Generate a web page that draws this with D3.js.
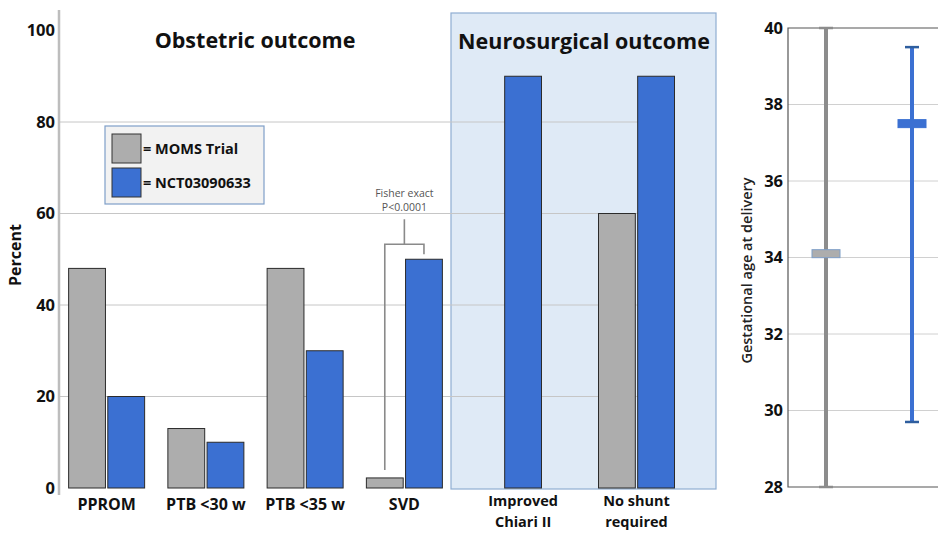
<!DOCTYPE html>
<html><head><meta charset="utf-8">
<script src="https://cdn.jsdelivr.net/npm/d3@7"></script>
<style>
html,body{margin:0;padding:0;background:#fff;}
svg{display:block;font-family:"Open Sans",Lato,sans-serif;}
</style></head>
<body>
<svg id="chart" width="938" height="534"></svg>
<script>
// ---------- data ----------
const obstetricCategories = ["PPROM", "PTB <30 w", "PTB <35 w", "SVD"];
const neuroCategories = ["Improved Chiari II", "No shunt required"];
const categoryLines = {
  "PPROM": ["PPROM"], "PTB <30 w": ["PTB <30 w"], "PTB <35 w": ["PTB <35 w"], "SVD": ["SVD"],
  "Improved Chiari II": ["Improved", "Chiari II"], "No shunt required": ["No shunt", "required"]
};
const seriesNames = ["MOMS Trial", "NCT03090633"];
const momsValues = [48, 13, 48, 2.2, null, 60];
const nctValues = [20, 10, 30, 50, 90, 90];
const percentTicks = [0, 20, 40, 60, 80, 100];

const gaSeries = ["MOMS Trial", "NCT03090633"];
const gaMin = [28, 29.7];
const gaMedian = [34.1, 37.5];
const gaMax = [40, 39.5];
const gaTicks = [28, 30, 32, 34, 36, 38, 40];

const fisherLines = ["Fisher exact", "P<0.0001"];

// ---------- setup ----------
const svg = d3.select("#chart");
const colors = {"MOMS Trial": "#adadad", "NCT03090633": "#3b70d2"};
const allCats = obstetricCategories.concat(neuroCategories);
const rows = allCats.map((c, i) => ({cat: c, values: [momsValues[i], nctValues[i]]}));

const y = d3.scaleLinear().domain([0, 100]).range([488, 30.5]);
const xObs = d3.scaleBand().domain(obstetricCategories).range([57, 454]).paddingInner(0);
const xNeu = d3.scaleBand().domain(neuroCategories).range([437, 703]).paddingInner(0);
const groupCenter = c => obstetricCategories.includes(c) ? xObs(c) + xObs.bandwidth() / 2 : xNeu(c) + xNeu.bandwidth() / 2;
const xSeries = d3.scaleBand().domain(seriesNames).range([-38, 38]).paddingInner(0.06);

// neuro panel
const panelX0 = xNeu.range()[0] + 14, panelX1 = 716;
svg.append("rect").attr("x", panelX0).attr("y", 13).attr("width", panelX1 - panelX0).attr("height", y(0) + 1 - 13)
  .attr("fill", "#dfeaf6").attr("stroke", "#8fadd2").attr("stroke-width", 1.2);

// gridlines
svg.append("g").selectAll("line").data(percentTicks.filter(t => t > 0 && t < 100)).join("line")
  .attr("x1", 59).attr("x2", 655).attr("y1", d => y(d)).attr("y2", d => y(d))
  .attr("stroke", "#c6c6c6").attr("stroke-width", 1);

// y axis
const yAxis = svg.append("g").attr("transform", "translate(59,0)")
  .call(d3.axisLeft(y).tickValues(percentTicks).tickSize(0).tickPadding(4));
yAxis.select(".domain").remove();
yAxis.selectAll("text").attr("font-size", 16.5).attr("font-weight", "bold").attr("fill", "#111").attr("font-family", "Open Sans");
svg.append("line").attr("x1", 59).attr("x2", 59).attr("y1", 10).attr("y2", 495).attr("stroke", "#bdbdbd").attr("stroke-width", 2.5);

svg.append("text").attr("transform", "translate(21,255) rotate(-90)").attr("text-anchor", "middle")
  .attr("font-size", 16).attr("font-weight", "bold").attr("fill", "#111").text("Percent");

// bars
const g = svg.append("g").selectAll("g").data(rows).join("g")
  .attr("transform", d => `translate(${groupCenter(d.cat)},0)`);
g.selectAll("rect").data(d => d.values.map((v, i) => ({v, s: seriesNames[i]})).filter(e => e.v != null)).join("rect")
  .attr("x", d => xSeries(d.s)).attr("width", xSeries.bandwidth())
  .attr("y", d => y(d.v)).attr("height", d => y(0) - y(d.v))
  .attr("fill", d => colors[d.s]).attr("stroke", "#2b2b2b").attr("stroke-width", 1);

// category labels (centered over the bars present)
rows.forEach(r => {
  const present = r.values.map((v, i) => v != null ? groupCenter(r.cat) + xSeries(seriesNames[i]) + xSeries.bandwidth() / 2 : null).filter(v => v != null);
  const cx = d3.mean(present);
  const lines = categoryLines[r.cat];
  lines.forEach((line, i) => svg.append("text").attr("x", cx)
    .attr("y", lines.length > 1 ? 506 + i * 20.5 : 510).attr("text-anchor", "middle")
    .attr("font-size", lines.length > 1 ? 14.5 : 16).attr("font-weight", "bold").attr("fill", "#111").text(line));
});

// titles
svg.append("text").attr("x", 255).attr("y", 48).attr("text-anchor", "middle").attr("font-size", 21.5)
  .attr("font-weight", "bold").attr("fill", "#111").text("Obstetric outcome");
svg.append("text").attr("x", 584).attr("y", 49).attr("text-anchor", "middle").attr("font-size", 21.5)
  .attr("font-weight", "bold").attr("fill", "#111").text("Neurosurgical outcome");

// legend
const lg = svg.append("g").attr("transform", "translate(105,126)");
lg.append("rect").attr("width", 159).attr("height", 78).attr("fill", "#f2f2f2").attr("stroke", "#7f9fc8").attr("stroke-width", 1.2);
seriesNames.forEach((s, i) => {
  lg.append("rect").attr("x", 7).attr("y", 8 + i * 34).attr("width", 29).attr("height", 29)
    .attr("fill", colors[s]).attr("stroke", "#333").attr("stroke-width", 1);
  lg.append("text").attr("x", 38).attr("y", 28 + i * 34).attr("font-size", 14.5).attr("font-weight", "bold")
    .attr("fill", "#111").text("= " + s);
});

// Fisher bracket on SVD
const svdC = groupCenter("SVD");
const svdIdx = allCats.indexOf("SVD");
const lx = svdC + xSeries(seriesNames[0]) + xSeries.bandwidth() / 2;
const rx = svdC + xSeries(seriesNames[1]) + xSeries.bandwidth() / 2;
const topY = y(Math.max(momsValues[svdIdx], nctValues[svdIdx])) - 15;
const br = d3.path();
br.moveTo(lx, y(momsValues[svdIdx]) - 8); br.lineTo(lx, topY); br.lineTo(rx, topY); br.lineTo(rx, y(nctValues[svdIdx]) - 5);
br.moveTo((lx + rx) / 2, topY); br.lineTo((lx + rx) / 2, topY - 25);
svg.append("path").attr("d", br.toString()).attr("fill", "none").attr("stroke", "#8a8a8a").attr("stroke-width", 1.6);
fisherLines.forEach((l, i) => svg.append("text").attr("x", (lx + rx) / 2).attr("y", 197 + i * 14)
  .attr("text-anchor", "middle").attr("font-size", 10.5).attr("fill", "#555").text(l));

// ---------- right chart ----------
const y2 = d3.scaleLinear().domain([28, 40]).range([487, 28]);
const x2 = d3.scalePoint().domain(gaSeries).range([783, 955]).padding(0.5);
const gaColors = {"MOMS Trial": "#8c8c8c", "NCT03090633": "#3b70d2"};
const capColors = {"MOMS Trial": "#8c8c8c", "NCT03090633": "#2e5e9e"};
const boxFill = {"MOMS Trial": "#adadad", "NCT03090633": "#3b70d2"};
const boxStroke = {"MOMS Trial": "#7f9fc8", "NCT03090633": "#3b70d2"};

svg.append("g").selectAll("line").data(gaTicks.filter(t => t > 28 && t < 40)).join("line")
  .attr("x1", 788).attr("x2", 938).attr("y1", d => y2(d)).attr("y2", d => y2(d))
  .attr("stroke", "#d0d0d0").attr("stroke-width", 1);
const ax2 = svg.append("g").attr("transform", "translate(788,0)")
  .call(d3.axisLeft(y2).tickValues(gaTicks).tickSize(0).tickPadding(5));
ax2.select(".domain").remove();
ax2.selectAll("text").attr("font-size", 16.5).attr("font-weight", "bold").attr("fill", "#111").attr("font-family", "Open Sans");
svg.append("path").attr("d", `M938,${y2(40)}H788V${y2(28)}H938`).attr("fill", "none").attr("stroke", "#555").attr("stroke-width", 1.2);
svg.append("text").attr("transform", `translate(752,${(y2(28) + y2(40)) / 2 + 13}) rotate(-90)`).attr("text-anchor", "middle")
  .attr("font-size", 14.5).attr("font-weight", 600).attr("fill", "#222").text("Gestational age at delivery");

gaSeries.forEach((s, i) => {
  const cx = x2(s);
  svg.append("line").attr("x1", cx).attr("x2", cx).attr("y1", y2(gaMax[i])).attr("y2", y2(gaMin[i]))
    .attr("stroke", gaColors[s]).attr("stroke-width", 4);
  [gaMin[i], gaMax[i]].forEach(v => svg.append("line").attr("x1", cx - 7).attr("x2", cx + 7)
    .attr("y1", y2(v)).attr("y2", y2(v)).attr("stroke", capColors[s]).attr("stroke-width", 2.5));
  svg.append("rect").attr("x", cx - 14).attr("width", 28).attr("y", y2(gaMedian[i]) - 4).attr("height", 8)
    .attr("fill", boxFill[s]).attr("stroke", boxStroke[s]).attr("stroke-width", 1);
});
</script>
</body></html>
